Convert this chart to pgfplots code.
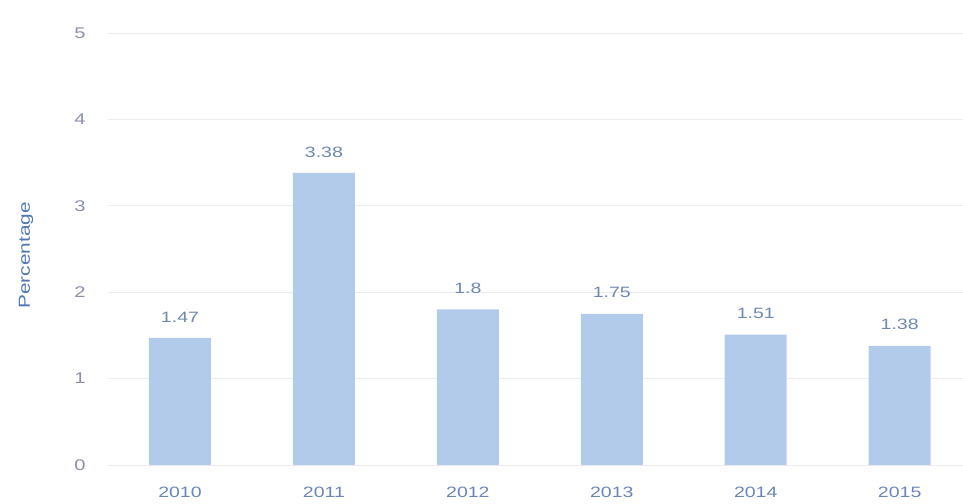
\documentclass[border=0pt]{standalone}
\usepackage{pgfplots}
\pgfplotsset{compat=1.18}
\usepackage{fontspec}
\setmainfont{Liberation Sans}[FakeStretch=1.3]
\definecolor{barc}{HTML}{B3CBEA}
\definecolor{gridc}{HTML}{ECECEC}
\definecolor{tickc}{HTML}{8A90A8}
\definecolor{xtc}{HTML}{6A86B8}
\definecolor{labc}{HTML}{4F77B5}
\definecolor{valc}{HTML}{6F88B2}
\begin{document}
\begin{tikzpicture}
\begin{axis}[name=ax,
  scale only axis, width=855bp, height=432bp,
  xmin=-0.5, xmax=5.44, ymin=0, ymax=5,
  axis line style={draw=none},
  ymajorgrids, grid style={gridc, line width=0.8pt},
  ytick={0,1,2,3,4,5},
  xtick=data, xticklabels={2010,2011,2012,2013,2014,2015},
  major tick length=0pt,
  xticklabel style={font=\fontsize{15bp}{17bp}\selectfont, text=xtc, anchor=center, yshift=-27bp},
  yticklabel style={font=\fontsize{15.5bp}{17bp}\selectfont, text=tickc, anchor=center, xshift=-28bp},
  /pgf/number format/assume math mode=true,
  ylabel={Percentage}, ylabel style={font=\fontsize{16bp}{18bp}\selectfont, text=labc, at={(axis description cs:-0.096,0.485)}, anchor=center},
  ybar, bar width=62bp,
  nodes near coords, nodes near coords style={font=\fontsize{15bp}{17bp}\selectfont, text=valc, anchor=center, yshift=21bp},
  point meta=explicit symbolic,
]
\addplot[fill=barc, draw=none] coordinates {(0,1.47)[1.47] (1,3.38)[3.38] (2,1.8)[1.8] (3,1.75)[1.75] (4,1.51)[1.51] (5,1.38)[1.38]};
\end{axis}
\pgfresetboundingbox
\path[use as bounding box] ([xshift=-108bp,yshift=-39bp]ax.south west) rectangle ([yshift=33bp]ax.north east);
\end{tikzpicture}
\end{document}
